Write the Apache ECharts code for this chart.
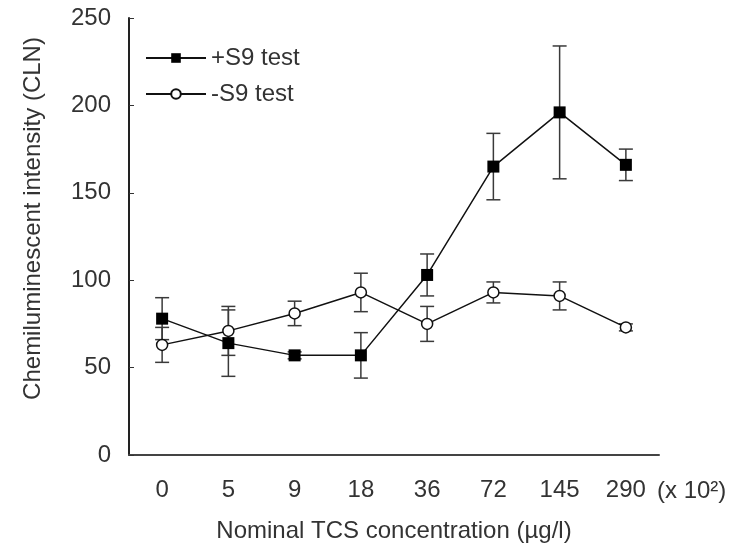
<!DOCTYPE html>
<html lang="en">
<head>
    <meta charset="UTF-8">
    <title>Chemiluminescent intensity vs TCS concentration</title>
    <script src="https://cdn.jsdelivr.net/npm/echarts@6/dist/echarts.min.js"></script>
</head>
<body style="margin:0;">
<div id="main" style="width: 742px;height: 544px;"></div>

<script type="text/javascript">
    // data
    var categories = ['0', '5', '9', '18', '36', '72', '145', '290'];
    var plusS9 = [78, 64, 57, 57, 103, 165, 196, 166];
    var plusErr = [12, 19, 2, 13, 12, 19, 38, 9];
    var minusS9 = [63, 71, 81, 93, 75, 93, 91, 73];
    var minusErr = [10, 14, 7, 11, 10, 6, 8, 2];
    var yTicks = [0, 50, 100, 150, 200, 250];

    var font = 'Liberation Sans, Arial, sans-serif';
    var textColor = '#333';

    var myChart = echarts.init(document.getElementById('main'));

    // [category index, low, high]
    function errorData(means, errs) {
        return means.map(function (m, i) {
            return [i, m - errs[i], m + errs[i]];
        });
    }

    function renderError(params, api) {
        var lo = api.coord([api.value(0), api.value(1)]);
        var hi = api.coord([api.value(0), api.value(2)]);
        var w = 7;
        var style = {stroke: '#3a3a3a', lineWidth: 1.5};
        return {
            type: 'group',
            children: [
                {type: 'line', shape: {x1: lo[0], y1: lo[1], x2: hi[0], y2: hi[1]}, style: style},
                {type: 'line', shape: {x1: lo[0] - w, y1: lo[1], x2: lo[0] + w, y2: lo[1]}, style: style},
                {type: 'line', shape: {x1: hi[0] - w, y1: hi[1], x2: hi[0] + w, y2: hi[1]}, style: style}
            ]
        };
    }

    var option = {
        animation: false,
        textStyle: {fontFamily: font, color: textColor},
        grid: {left: 129, right: 83, top: 18, bottom: 89, outerBoundsMode: 'none'},
        legend: {
            left: 145,
            top: 46,
            padding: 0,
            orient: 'vertical',
            itemWidth: 60,
            itemHeight: 12,
            itemGap: 12,
            textStyle: {fontSize: 24, color: textColor, fontFamily: font},
            data: ['+S9 test', '-S9 test']
        },
        xAxis: {
            type: 'category',
            data: categories,
            name: 'Nominal TCS concentration (µg/l)',
            nameLocation: 'middle',
            nameGap: 64,
            nameTextStyle: {fontSize: 24, color: textColor},
            axisLine: {lineStyle: {color: '#444', width: 2}},
            axisTick: {inside: true, length: 5, lineStyle: {color: '#333'}},
            axisLabel: {fontSize: 24, color: textColor, margin: 23}
        },
        yAxis: {
            type: 'value',
            min: yTicks[0],
            max: yTicks[yTicks.length - 1],
            interval: 50,
            name: 'Chemiluminescent intensity (CLN)',
            nameLocation: 'middle',
            nameGap: 84,
            nameRotate: 90,
            nameTextStyle: {fontSize: 24, color: textColor, padding: [0, 0, 0, 36]},
            axisLine: {show: true, lineStyle: {color: '#222', width: 2}},
            axisTick: {show: true, inside: true, length: 5, lineStyle: {color: '#333'}},
            axisLabel: {fontSize: 24, color: textColor, margin: 18},
            splitLine: {show: false}
        },
        graphic: [{
            type: 'text',
            left: 657,
            top: 479,
            style: {text: '(x 10²)', fontSize: 24, fill: textColor, fontFamily: font}
        }],
        series: [
            {
                type: 'custom',
                renderItem: renderError,
                data: errorData(minusS9, minusErr),
                encode: {x: 0, y: [1, 2]},
                z: 1
            },
            {
                type: 'custom',
                renderItem: renderError,
                data: errorData(plusS9, plusErr),
                encode: {x: 0, y: [1, 2]},
                z: 1
            },
            {
                name: '-S9 test',
                type: 'line',
                data: minusS9,
                symbol: 'circle',
                symbolSize: 11,
                lineStyle: {color: '#111', width: 1.5},
                itemStyle: {color: '#fff', borderColor: '#111', borderWidth: 1.5},
                z: 3
            },
            {
                name: '+S9 test',
                type: 'line',
                data: plusS9,
                symbol: 'rect',
                symbolSize: 12,
                lineStyle: {color: '#111', width: 1.5},
                itemStyle: {color: '#000', borderColor: '#000', borderWidth: 0},
                z: 4
            }
        ]
    };

    myChart.setOption(option);
</script>
</body>
</html>
